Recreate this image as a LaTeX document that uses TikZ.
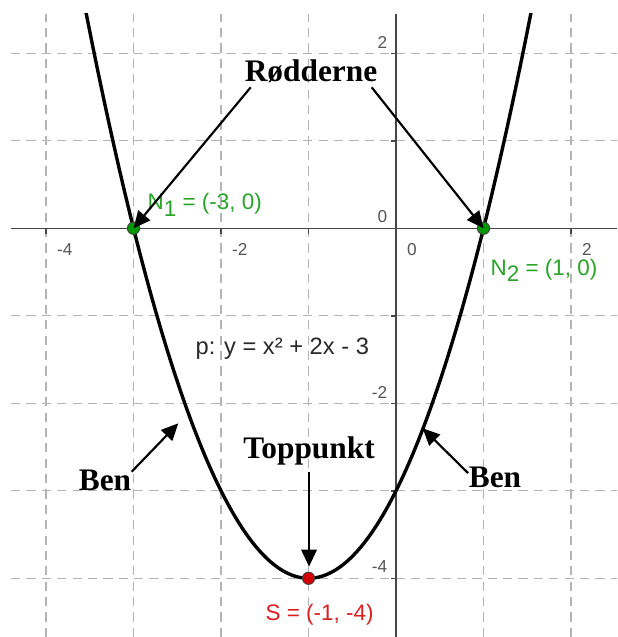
\documentclass[tikz,border=0pt]{standalone}
\usepackage{fontspec}
\setmainfont{Liberation Serif}
\newfontfamily\ggb{Liberation Sans}
\usetikzlibrary{arrows.meta}
\definecolor{ggreen}{RGB}{0,153,0}
\definecolor{ggreentext}{RGB}{40,165,40}
\definecolor{gred}{RGB}{210,0,0}
\definecolor{gredtext}{RGB}{220,30,30}
\definecolor{gridgray}{RGB}{180,180,180}
\definecolor{axisgray}{RGB}{70,70,70}
\definecolor{ticklbl}{RGB}{85,85,85}
\definecolor{eqtext}{RGB}{40,40,40}
\begin{document}
\begin{tikzpicture}[x=1cm,y=1cm,
  gridline/.style={gridgray, line width=0.4pt, dash pattern=on 3pt off 2pt},
  axisline/.style={axisgray, line width=0.5pt},
  ticklabel/.style={ticklbl, font=\ggb\fontsize{5.6}{6}\selectfont, inner sep=0pt},
  ptlabel/.style={font=\ggb\fontsize{7.3}{8}\selectfont, inner sep=0pt, anchor=base west},
  annot/.style={font=\bfseries\fontsize{10.2}{12}\selectfont, inner sep=0pt, anchor=base},
  pointer/.style={line width=0.7pt, -{Triangle[length=5.5pt,width=5pt]}},
  gpoint/.style={circle, inner sep=0pt, minimum size=0.14cm, draw=black!75, line width=0.3pt}
]
\useasboundingbox (-4.526,-4.671) rectangle (2.526,2.609);
% grid
\foreach \x in {-4,-3,-2,-1,1,2} \draw[gridline] (\x,-4.671) -- (\x,2.449);
\foreach \y in {-4,-3,-2,-1,1,2} \draw[gridline] (-4.4,\y) -- (2.526,\y);
% axes
\draw[axisline] (-4.4,0) -- (2.526,0);
\draw[axisline] (0,-4.671) -- (0,2.449);
\foreach \x in {-4,-3,-2,-1,1,2} \draw[axisline] (\x,0) -- (\x,-0.06);
\foreach \y in {-4,-3,-2,-1,1,2} \draw[axisline] (0,\y) -- (-0.06,\y);
% tick labels
\foreach \x in {-4,-2,0,2} \node[ticklabel, anchor=west] (tx\x) at (\x+0.12,-0.238) {\x};
\foreach \y in {-4,-2,0,2} \node[ticklabel, anchor=east] (ty\y) at (-0.095,\y+0.129) {\y};
% curve
\begin{scope}
\clip (-4.4,-4.671) rectangle (2.526,2.449);
\draw[line width=1.1pt] plot[domain=-3.6:1.6, samples=120, smooth] (\x,{\x*\x+2*\x-3});
\end{scope}
% points
\node[gpoint, fill=ggreen] (N1) at (-3,0) {};
\node[gpoint, fill=ggreen] (N2) at (1,0) {};
\node[gpoint, fill=gred] (S) at (-1,-4) {};
% point labels
\node[ptlabel, text=ggreentext] (N1lbl) at (-2.846,0.209) {N\raisebox{-0.3em}{1} = (-3, 0)};
\node[ptlabel, text=ggreentext] (N2lbl) at (1.074,-0.534) {N\raisebox{-0.3em}{2} = (1, 0)};
\node[ptlabel, text=gredtext] (Slbl) at (-1.497,-4.478) {S = (-1, -4)};
\node[ptlabel, text=eqtext, font=\ggb\fontsize{7.7}{8}\selectfont] (eq) at (-2.297,-1.448) {p: y = x² + 2x - 3};
% annotations
\node[annot] (rod) at (-0.971,1.683) {Rødderne};
\node[annot] (top) at (-0.994,-2.629) {Toppunkt};
\node[annot] (benL) at (-3.326,-2.991) {Ben};
\node[annot] (benR) at (1.131,-2.968) {Ben};
\coordinate (rodL) at (-1.661,1.611);
\coordinate (rodR) at (-0.278,1.611);
\coordinate (benLs) at (-3.021,-2.782);
\coordinate (benLe) at (-2.488,-2.229);
\coordinate (benRs) at (0.823,-2.797);
\coordinate (benRe) at (0.305,-2.286);
\coordinate (tops) at (-0.994,-2.782);
\coordinate (tope) at (-0.994,-3.867);
\draw[pointer] (rodL) -- (N1.center);
\draw[pointer] (rodR) -- (N2.center);
\draw[pointer] (benLs) -- (benLe);
\draw[pointer] (benRs) -- (benRe);
\draw[pointer] (tops) -- (tope);
\end{tikzpicture}
\end{document}
